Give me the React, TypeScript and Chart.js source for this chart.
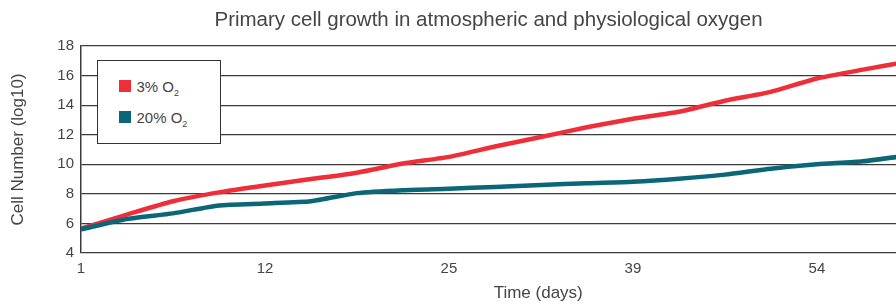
import React, { useEffect, useRef } from 'react';
import { Chart, registerables } from 'chart.js';

Chart.register(...registerables);

const TITLE = 'Primary cell growth in atmospheric and physiological oxygen';
const X_TITLE = 'Time (days)';
const Y_TITLE = 'Cell Number (log10)';

// x tick labels (days), one every 4 samples
const xTickLabels = ['1', '12', '25', '39', '54'];
const xTickEvery = 4;
const xVisibleMax = 17.72; // the picture is cut at the right edge

const seriesBase = ['3% O', '20% O'];
const seriesSub = '2';
const seriesColors = ['#ee2f3a', '#0b6678'];

// Cell number (log10) per sample
const o2Physiological = [5.65, 6.6, 7.5, 8.1, 8.57, 9.0, 9.43, 10.05, 10.5, 11.2, 11.85, 12.5, 13.08, 13.55, 14.3, 14.9, 15.8, 16.4, 16.95];
const o2Atmospheric = [5.6, 6.3, 6.68, 7.22, 7.35, 7.5, 8.05, 8.25, 8.35, 8.47, 8.6, 8.72, 8.82, 9.02, 9.3, 9.7, 10.0, 10.2, 10.6];

const yMin = 4;
const yMax = 18;
const yStep = 2;

const FONT = '"Liberation Sans", Arial, sans-serif';
const TEXT = '#454545';
const GRID = '#3a3a3a';

const xTitlePlugin = {
  id: 'xTitleCustom',
  afterDraw(chart: any) {
    const { ctx, chartArea } = chart;
    ctx.save();
    ctx.font = `17px ${FONT}`;
    ctx.fillStyle = TEXT;
    ctx.textAlign = 'center';
    ctx.textBaseline = 'middle';
    const x = chartArea.left + (chartArea.right - chartArea.left) * 0.561;
    ctx.fillText(X_TITLE, x, chartArea.bottom + 40);
    ctx.restore();
  },
};

export default function App() {
  const ref = useRef<HTMLCanvasElement>(null);

  useEffect(() => {
    if (!ref.current) return;
    const toPts = (arr: number[]) => arr.map((y, i) => ({ x: i, y }));
    const chart = new Chart(ref.current, {
      type: 'line',
      data: {
        datasets: [
          {
            label: seriesBase[1] + '₂',
            data: toPts(o2Atmospheric),
            borderColor: seriesColors[1],
            backgroundColor: seriesColors[1],
            borderWidth: 4.5,
            pointRadius: 0,
            tension: 0.2,
            borderJoinStyle: 'round',
            order: 0,
          },
          {
            label: seriesBase[0] + '₂',
            data: toPts(o2Physiological),
            borderColor: seriesColors[0],
            backgroundColor: seriesColors[0],
            borderWidth: 4.5,
            pointRadius: 0,
            tension: 0.2,
            borderJoinStyle: 'round',
            order: 1,
          },
        ],
      },
      options: {
        animation: false,
        responsive: true,
        maintainAspectRatio: false,
        layout: { padding: { left: 4, right: 0, top: 0, bottom: 0 } },
        plugins: {
          legend: { display: false },
          tooltip: { enabled: false },
          title: {
            display: true,
            text: TITLE,
            fullSize: false,
            color: TEXT,
            font: { family: FONT, size: 20.5, weight: 'normal' },
            padding: { top: 8, bottom: 13.4 },
          },
        },
        scales: {
          x: {
            type: 'linear',
            min: 0,
            max: xVisibleMax,
            afterBuildTicks: (s: any) => {
              s.ticks = xTickLabels.map((_, i) => ({ value: i * xTickEvery }));
            },
            afterFit: (s: any) => {
              s.height = 53;
            },
            ticks: {
              autoSkip: false,
              maxRotation: 0,
              padding: 7,
              color: TEXT,
              font: { family: FONT, size: 15 },
              callback: (v: any) => xTickLabels[Math.round(Number(v) / xTickEvery)] ?? '',
            },
            grid: { display: false, drawTicks: false },
            border: { display: false },
          },
          y: {
            min: yMin,
            max: yMax,
            afterFit: (s: any) => {
              s.width = 77;
            },
            ticks: {
              stepSize: yStep,
              padding: 7,
              color: TEXT,
              font: { family: FONT, size: 15 },
            },
            grid: { color: GRID, lineWidth: 1.2, drawTicks: false },
            border: { display: true, color: GRID, width: 1.5 },
            title: {
              display: true,
              text: Y_TITLE,
              color: TEXT,
              font: { family: FONT, size: 17 },
              padding: { top: 4, bottom: 0 },
            },
          },
        },
      },
      plugins: [xTitlePlugin],
    });
    return () => chart.destroy();
  }, []);

  return (
    <div style={{ position: 'absolute', left: 0, top: 0, width: 896, height: 306, background: '#fff', overflow: 'hidden' }}>
      <canvas ref={ref} />
      <div
        style={{
          position: 'absolute',
          left: 97,
          top: 60,
          width: 124,
          height: 84,
          boxSizing: 'border-box',
          border: '1.5px solid #333',
          background: '#fff',
          fontFamily: FONT,
          fontSize: 15,
          color: TEXT,
        }}
      >
        {seriesBase.map((name, i) => (
          <div
            key={name}
            style={{ position: 'absolute', left: 20.5, top: 19 + i * 31, height: 12, display: 'flex', alignItems: 'center', whiteSpace: 'nowrap' }}
          >
            <span style={{ display: 'inline-block', width: 12, height: 12, background: seriesColors[i], marginRight: 6 }} />
            <span>
              {name}
              <sub style={{ fontSize: 9, verticalAlign: 'baseline', position: 'relative', top: 4 }}>{seriesSub}</sub>
            </span>
          </div>
        ))}
      </div>
    </div>
  );
}
